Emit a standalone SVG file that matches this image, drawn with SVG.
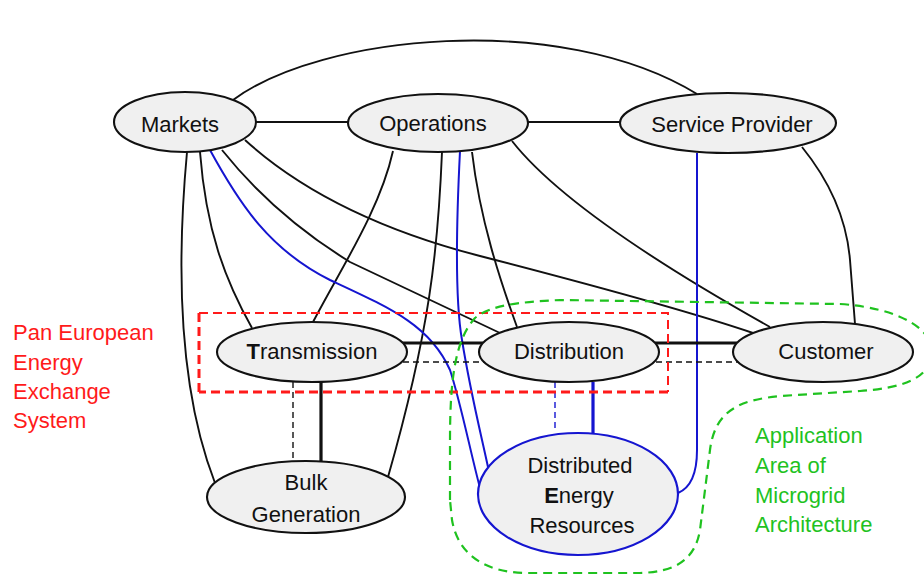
<svg xmlns="http://www.w3.org/2000/svg" width="924" height="576" viewBox="0 0 924 576">
<style>
.ln{fill:none;stroke:#111;stroke-width:1.9}
.thick{fill:none;stroke:#111;stroke-width:3.2}
.dsh{fill:none;stroke:#111;stroke-width:1.4;stroke-dasharray:6,4}
.bl{fill:none;stroke:#1515d0;stroke-width:2}
.blthick{fill:none;stroke:#1515d0;stroke-width:3.2}
.bldsh{fill:none;stroke:#1515d0;stroke-width:1.4;stroke-dasharray:6,4}
.node{fill:#f0f0f0;stroke:#111;stroke-width:2.1}
.der{fill:#f0f0f0;stroke:#1515d0;stroke-width:2.2}
.t{font-family:"Liberation Sans",Arial,sans-serif;font-size:22px;fill:#111;text-anchor:middle}
.red{font-family:"Liberation Sans",Arial,sans-serif;font-size:22px;fill:#ff1a1a}
.grn{font-family:"Liberation Sans",Arial,sans-serif;font-size:22px;fill:#1fc21f}
</style>
<rect width="924" height="576" fill="#fff"/>
<g id="connectors">
<path class="ln" d="M233,100 C320,35 560,10 697,94"/>
<path class="ln" d="M256,122 L348,122"/>
<path class="ln" d="M528,122 L620,122"/>
<path class="ln" d="M802,147 Q845,200 850,260 L855,324"/>
<path class="ln" d="M187,152 C178,250 175,380 215,483"/>
<path class="ln" d="M200,152 C206,230 225,280 252,328"/>
<path class="ln" d="M222,150 C250,185 290,225 350,262 L500,333"/>
<path class="ln" d="M245,140 C300,190 380,230 480,256 C600,287 700,315 753,333"/>
<path class="ln" d="M393,151 C380,210 340,270 313,322"/>
<path class="ln" d="M442,152 C438,250 430,330 388,477"/>
<path class="ln" d="M472,152 C480,220 500,280 517,327"/>
<path class="ln" d="M512,141 Q570,215 770,327"/>
<path class="bl" d="M210,150 C240,205 270,250 330,280 C390,308 430,325 450,370 C460,400 470,450 480,488"/>
<path class="bl" d="M460,151 C456,230 455,300 462,340 C470,390 480,430 488,467"/>
<path class="bl" d="M697,153 L697,450 C697,475 690,488 678,493"/>
<path class="thick" d="M402,343 L483,343"/>
<path class="thick" d="M655,343 L737,343"/>
<path class="dsh" d="M403,362 L484,362"/>
<path class="dsh" d="M656,362 L738,362"/>
<path class="thick" d="M321,382 L321,462"/>
<path class="dsh" d="M293,382 L293,460"/>
<path class="blthick" d="M593,382 L593,434"/>
<path class="bldsh" d="M555,382 L555,428"/>
</g>
<g id="pan-european-area">
<path d="M199,392 L199,313" fill="none" stroke="#ff1a1a" stroke-width="3" stroke-dasharray="9,5"/>
<path d="M199,313 L668,313 L668,392" fill="none" stroke="#ff1a1a" stroke-width="2" stroke-dasharray="9,5"/>
<path d="M668,392 L199,392" fill="none" stroke="#ff1a1a" stroke-width="3" stroke-dasharray="9,5"/>
</g>
<g id="microgrid-area">
<path d="M450,500 L450,440 C450,380 455,340 475,318 C490,305 520,302 560,300 L840,304 C900,308 935,330 932,355 C928,380 900,388 860,391 L780,396 C740,400 715,410 710,450 L700,530 C695,560 675,572 640,573 L525,573 C485,572 458,555 452,520 Z" fill="none" stroke="#1fc21f" stroke-width="2.2" stroke-dasharray="9,6"/>
</g>
<g id="markets"><ellipse class="node" cx="185" cy="122" rx="71" ry="30"/><text class="t" x="180" y="132">Markets</text></g>
<g id="operations"><ellipse class="node" cx="438" cy="123" rx="90" ry="29"/><text class="t" x="433" y="131">Operations</text></g>
<g id="service-provider"><ellipse class="node" cx="728" cy="123" rx="108" ry="30"/><text class="t" x="732" y="132">Service Provider</text></g>
<g id="transmission"><ellipse class="node" cx="312" cy="352" rx="95" ry="30"/><text class="t" x="312" y="359"><tspan font-weight="bold">T</tspan>ransmission</text></g>
<g id="distribution"><ellipse class="node" cx="569" cy="352" rx="90" ry="30"/><text class="t" x="569" y="359">Distribution</text></g>
<g id="customer"><ellipse class="node" cx="823" cy="352" rx="90" ry="30"/><text class="t" x="826" y="359">Customer</text></g>
<g id="bulk-generation"><ellipse class="node" cx="306" cy="497" rx="99" ry="36"/><text class="t" x="306" y="490">Bulk</text><text class="t" x="306" y="522">Generation</text></g>
<g id="der"><ellipse class="der" cx="578" cy="494" rx="100" ry="61"/><text class="t" x="580" y="473">Distributed</text><text class="t" x="579" y="503"><tspan font-weight="bold">E</tspan>nergy</text><text class="t" x="582" y="533">Resources</text></g>
<g id="label-pan-european">
<text class="red" x="13" y="340">Pan European</text>
<text class="red" x="13" y="370">Energy</text>
<text class="red" x="13" y="399">Exchange</text>
<text class="red" x="13" y="428">System</text>
</g>
<g id="label-microgrid">
<text class="grn" x="755" y="443">Application</text>
<text class="grn" x="755" y="473">Area of</text>
<text class="grn" x="755" y="503">Microgrid</text>
<text class="grn" x="755" y="532">Architecture</text>
</g>
</svg>
